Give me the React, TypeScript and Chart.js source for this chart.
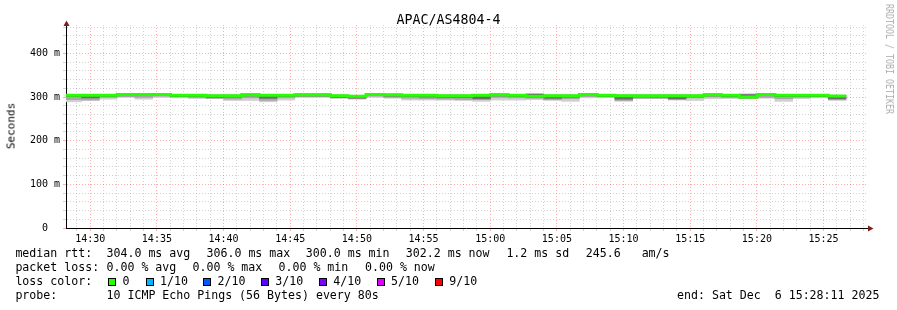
import React, { useEffect, useRef } from 'react';
import { Chart, registerables } from 'chart.js';

Chart.register(...registerables);

// ---------------- data ----------------
const TITLE = 'APAC/AS4804-4';
const Y_AXIS_TITLE = 'Seconds';
const WATERMARK = 'RRDTOOL / TOBI OETIKER';
const WINDOW_START = '14:28:11';
const WINDOW_SECONDS = 3600;
const STEP_SECONDS = 80;
const FIRST_STEP_START = -10; // seconds relative to window start
const Y_MAX_MS = 465;
const Y_GRID_MS = 20;
const Y_LABEL_MS = 100;
const X_GRID_SECONDS = 60;
const X_LABEL_SECONDS = 300;

// median round-trip time per 80 s step (ms)
const medianMs = [304, 304, 304, 306, 306, 306, 304, 304, 303, 303, 305.5, 304, 304, 305.5, 305.5, 303, 302, 306, 305, 304, 304, 303, 303, 304, 305.5, 304, 302, 303, 303, 306, 304, 303, 303, 303, 303, 303, 305.5, 304, 300, 306, 304, 304, 304, 302.2];
// smoke: fastest / slowest ping, and inner layers (ms)
const pingMinMs = [289, 292, 295, 299, 295, 299, 298, 297, 296, 292, 292, 289, 293, 299, 299, 297, 295, 299, 297, 293, 293, 293, 292, 290, 293, 293, 294, 292, 290, 298, 299, 290, 296, 296, 293, 292, 296, 297, 296, 297, 290, 296, 298, 292];
const midLowMs = [294, 293, 299, 301, 299, 302, 300, 298, 297, 295, 298, 292, 298, 301, 301, 298, 296, 302, 299, 297, 296, 295, 294, 294, 299, 298, 297, 294, 296, 301, 300, 292, 297, 297, 294, 298, 300, 298, 297, 299, 296, 299, 300, 294];
const coreLowMs = [301, 298, 301, 303, 303, 303, 301, 301, 299, 299.5, 302.5, 297, 301, 302.5, 302.5, 299, 297.5, 303, 302, 301, 300, 299, 299, 296, 302.5, 301, 299, 297, 299.5, 303, 301, 295, 300, 299.5, 296, 300, 302.5, 301, 298, 303, 301, 301, 301, 296];
const coreHighMs = [305, 305, 305, 307, 307, 307, 305, 305, 304, 304, 306.5, 305, 305, 306.5, 306.5, 304, 303, 307, 306, 305, 305, 304, 304, 305, 306.5, 305, 306.5, 304, 304, 307, 305, 304, 304, 304, 304, 304, 306.5, 305, 305.5, 307, 305, 305, 305, 303.2];
const midHighMs = [305.5, 305.5, 305.5, 307.5, 307.5, 307.5, 305.5, 305.5, 304.5, 304.5, 307, 305.5, 305.5, 307, 307, 304.5, 303.5, 307.5, 306.5, 305.5, 305.5, 304.5, 304.5, 305.5, 307, 305.5, 307, 304.5, 304.5, 307.5, 305.5, 304.5, 304.5, 304.5, 304.5, 304.5, 307, 305.5, 306.5, 307.5, 305.5, 305.5, 305.5, 303.7];
const pingMaxMs = [306, 306, 306, 308, 308, 308, 306, 306, 305, 305, 307.5, 306, 306, 307.5, 307.5, 305, 304, 308, 307, 306, 306, 305, 305, 306, 307.5, 306, 307.5, 305, 305, 308, 306, 305, 305, 305, 305, 305, 307.5, 306, 307.5, 308, 306, 306, 306, 304.2];

const rttLabel = 'median rtt:';
const rttStats = ['304.0 ms avg', '306.0 ms max', '300.0 ms min', '302.2 ms now', '1.2 ms sd', '245.6   am/s'];
const lossLabel = 'packet loss:';
const lossStats = ['0.00 % avg', '0.00 % max', '0.00 % min', '0.00 % now'];
const lossColorLabel = 'loss color:';
const lossLevels = ['0', '1/10', '2/10', '3/10', '4/10', '5/10', '9/10'];
const lossLevelColors = ['#26ff00', '#00b8ff', '#0059ff', '#5e00ff', '#7e00ff', '#dd00ff', '#ff0000'];
const probeLabel = 'probe:';
const probeText = '10 ICMP Echo Pings (56 Bytes) every 80s';
const endText = 'end: Sat Dec  6 15:28:11 2025';

// ---------------- layout / style ----------------
const W = 897;
const H = 310;
const FONT = '"DejaVu Sans Mono", monospace';
const LEG_SIZE = 11.6;
const rttX = [106.5, 206.5, 305.8, 405.8, 506.4, 585.8];
const lossX = [106.5, 192.5, 278.5, 365];
const boxX = [108, 146, 203, 261, 319, 377, 435];
const levelX = [122.5, 160, 217.5, 275.3, 333.3, 391, 449.3];
const MINOR_GRID = 'rgba(140,140,140,0.38)';
const MAJOR_GRID = 'rgba(255,60,60,0.42)';
const SMOKE = ['#d0d0d0', '#a8a8a8', '#6c6c6c'];

const toSec = (s: string) => {
  const [h, m, x] = s.split(':').map(Number);
  return h * 3600 + m * 60 + x;
};
const startSec = toSec(WINDOW_START);
const pad2 = (n: number) => String(n).padStart(2, '0');

const xTickValues: number[] = [];
for (let t = (X_GRID_SECONDS - (startSec % X_GRID_SECONDS)) % X_GRID_SECONDS; t <= WINDOW_SECONDS; t += X_GRID_SECONDS) xTickValues.push(t);
const isMajorX = (t: number) => (startSec + t) % X_LABEL_SECONDS === 0;
const xLabel = (t: number) => {
  const s = startSec + t;
  return isMajorX(t) ? `${pad2(Math.floor(s / 3600) % 24)}:${pad2(Math.floor((s % 3600) / 60))}` : '';
};
const yTickValues: number[] = [];
for (let v = 0; v <= Y_MAX_MS; v += Y_GRID_MS) yTickValues.push(v);
const isMajorY = (v: number) => v % Y_LABEL_MS === 0;

const stepCenter = (k: number) => FIRST_STEP_START + k * STEP_SECONDS + STEP_SECONDS / 2;
const band = (lo: number[], hi: number[]) => lo.map((v, k) => ({ x: stepCenter(k), y: [v, hi[k]] }));
const medianPoints = medianMs.map((v, k) => ({ x: FIRST_STEP_START + k * STEP_SECONDS, y: v }));
medianPoints.push({ x: FIRST_STEP_START + medianMs.length * STEP_SECONDS, y: medianMs[medianMs.length - 1] });

const axisArrows = {
  id: 'axisArrows',
  afterDraw(chart: any) {
    const { ctx, chartArea } = chart;
    const { left, top, right, bottom } = chartArea;
    ctx.save();
    ctx.strokeStyle = '#000';
    ctx.lineWidth = 1;
    ctx.beginPath();
    ctx.moveTo(right, bottom + 0.5);
    ctx.lineTo(right + 3, bottom + 0.5);
    ctx.stroke();
    ctx.fillStyle = '#7f1d1d';
    ctx.beginPath();
    ctx.moveTo(right + 2, bottom - 2.5);
    ctx.lineTo(right + 7.5, bottom + 0.5);
    ctx.lineTo(right + 2, bottom + 3.5);
    ctx.closePath();
    ctx.fill();
    ctx.beginPath();
    ctx.moveTo(left - 2.5, top + 1);
    ctx.lineTo(left + 0.5, top - 4.5);
    ctx.lineTo(left + 3.5, top + 1);
    ctx.closePath();
    ctx.fill();
    ctx.restore();
  },
};

const barCommon = {
  type: 'bar' as const,
  xAxisID: 'xs',
  yAxisID: 'y',
  grouped: false,
  barPercentage: 1,
  categoryPercentage: 1,
  borderWidth: 0,
  clip: 0,
};

function Txt({ x, baseline, size = LEG_SIZE, color = '#000', children }: any) {
  return (
    <div
      style={{
        position: 'absolute',
        left: x,
        top: baseline - 0.846 * size,
        fontFamily: FONT,
        fontSize: size,
        lineHeight: `${size}px`,
        whiteSpace: 'pre',
        color,
      }}
    >
      {children}
    </div>
  );
}

export default function App() {
  const canvasRef = useRef<HTMLCanvasElement>(null);

  useEffect(() => {
    const chart = new Chart(canvasRef.current as HTMLCanvasElement, {
      type: 'bar',
      data: {
        datasets: [
          {
            type: 'line',
            label: 'median rtt',
            data: medianPoints,
            xAxisID: 'xs',
            yAxisID: 'y',
            stepped: 'before',
            borderColor: lossLevelColors[0],
            borderWidth: 3,
            borderJoinStyle: 'miter',
            borderCapStyle: 'butt',
            pointRadius: 0,
            fill: false,
            order: 0,
            clip: 0,
          } as any,
          { ...barCommon, label: 'smoke core', data: band(coreLowMs, coreHighMs), backgroundColor: SMOKE[2], order: 1 } as any,
          { ...barCommon, label: 'smoke mid', data: band(midLowMs, midHighMs), backgroundColor: SMOKE[1], order: 2 } as any,
          { ...barCommon, label: 'smoke outer', data: band(pingMinMs, pingMaxMs), backgroundColor: SMOKE[0], order: 3 } as any,
        ],
      },
      options: {
        responsive: false,
        animation: false,
        devicePixelRatio: 1,
        layout: { padding: { top: 25, right: 31, bottom: 0, left: 0 } },
        plugins: { legend: { display: false }, tooltip: { enabled: false }, title: { display: false } },
        scales: {
          xs: {
            type: 'linear',
            display: false,
            position: 'bottom',
            min: 0,
            max: WINDOW_SECONDS,
            offset: false,
            grid: { offset: false },
            afterBuildTicks: (s: any) => {
              s.ticks = [{ value: 0 }, { value: WINDOW_SECONDS }];
            },
          },
          x: {
            type: 'linear',
            position: 'bottom',
            min: 0,
            max: WINDOW_SECONDS,
            offset: false,
            afterBuildTicks: (s: any) => {
              s.ticks = xTickValues.map((value) => ({ value }));
            },
            afterFit: (s: any) => {
              s.height = H - 228;
            },
            ticks: {
              autoSkip: false,
              maxRotation: 0,
              minRotation: 0,
              padding: 2,
              color: '#000',
              font: { family: FONT, size: 10 },
              callback: (v: any) => xLabel(Number(v)),
            },
            grid: {
              offset: false,
              lineWidth: 1,
              tickLength: 3,
              color: (c: any) => (c.tick && isMajorX(c.tick.value) ? MAJOR_GRID : MINOR_GRID),
              tickColor: (c: any) => (c.tick && isMajorX(c.tick.value) ? MAJOR_GRID : MINOR_GRID),
            },
            border: { display: true, color: '#000', width: 1, dash: [1, 2] },
          },
          y: {
            type: 'linear',
            min: 0,
            max: Y_MAX_MS,
            afterBuildTicks: (s: any) => {
              s.ticks = yTickValues.map((value) => ({ value }));
            },
            afterFit: (s: any) => {
              s.width = 66;
            },
            ticks: {
              autoSkip: false,
              padding: 3,
              color: '#000',
              font: { family: FONT, size: 10 },
              callback: (v: any) => {
                const n = Number(v);
                if (!isMajorY(n)) return '';
                return n === 0 ? '0  ' : `${n} m`;
              },
            },
            grid: {
              lineWidth: 1,
              tickLength: 3,
              color: (c: any) =>
                c.tick && c.tick.value === 0 ? 'rgba(0,0,0,0)' : c.tick && isMajorY(c.tick.value) ? MAJOR_GRID : MINOR_GRID,
              tickColor: (c: any) => (c.tick && isMajorY(c.tick.value) ? MAJOR_GRID : MINOR_GRID),
            },
            border: { display: true, color: '#000', width: 1, dash: [1, 2] },
          },
        },
      } as any,
      plugins: [axisArrows],
    });
    return () => chart.destroy();
  }, []);

  return (
    <div style={{ position: 'absolute', left: 0, top: 0, width: W, height: H, background: '#fff', overflow: 'hidden' }}>
      <canvas ref={canvasRef} width={W} height={H} style={{ position: 'absolute', left: 0, top: 0, width: W, height: H }} />
      <div
        style={{
          position: 'absolute',
          left: 0,
          width: W,
          top: 24 - 0.846 * 13.3,
          textAlign: 'center',
          fontFamily: FONT,
          fontSize: 13.3,
          lineHeight: '13.3px',
          color: '#000',
        }}
      >
        {TITLE}
      </div>
      <div
        style={{
          position: 'absolute',
          left: 11,
          top: 126,
          transform: 'translate(-50%, -50%) rotate(-90deg)',
          fontFamily: FONT,
          fontSize: 11,
          lineHeight: '11px',
          whiteSpace: 'pre',
          color: '#000',
        }}
      >
        {Y_AXIS_TITLE}
      </div>
      <div
        style={{
          position: 'absolute',
          left: 889,
          top: 59,
          transform: 'translate(-50%, -50%) rotate(90deg) scaleX(0.83)',
          fontFamily: FONT,
          fontSize: 10,
          lineHeight: '10px',
          whiteSpace: 'pre',
          color: '#b0b0b0',
        }}
      >
        {WATERMARK}
      </div>

      <Txt x={15.4} baseline={258}>{rttLabel}</Txt>
      {rttStats.map((s, i) => (
        <Txt key={'r' + i} x={rttX[i]} baseline={258}>{s}</Txt>
      ))}
      <Txt x={15.4} baseline={272}>{lossLabel}</Txt>
      {lossStats.map((s, i) => (
        <Txt key={'l' + i} x={lossX[i]} baseline={272}>{s}</Txt>
      ))}
      <Txt x={15.4} baseline={286}>{lossColorLabel}</Txt>
      {lossLevels.map((s, i) => (
        <React.Fragment key={'c' + i}>
          <div
            style={{
              position: 'absolute',
              left: boxX[i],
              top: 278,
              width: 8,
              height: 8,
              boxSizing: 'border-box',
              border: '1px solid #000',
              background: lossLevelColors[i],
            }}
          />
          <Txt x={levelX[i]} baseline={286}>{s}</Txt>
        </React.Fragment>
      ))}
      <Txt x={15.4} baseline={300}>{probeLabel}</Txt>
      <Txt x={106.5} baseline={300}>{probeText}</Txt>
      <Txt x={677} baseline={300}>{endText}</Txt>
    </div>
  );
}
